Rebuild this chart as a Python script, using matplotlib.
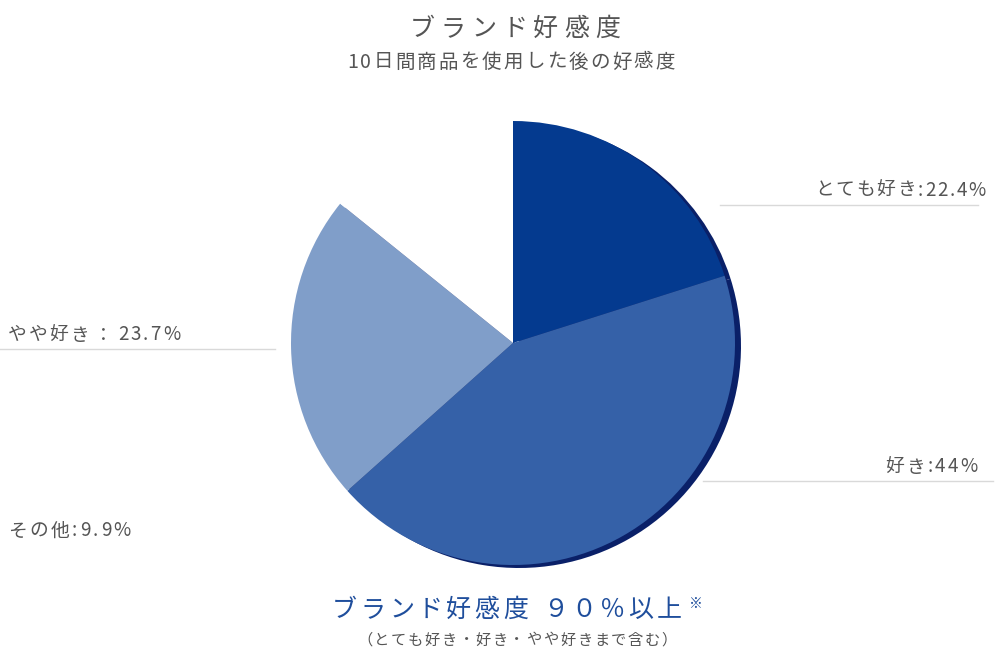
import matplotlib
matplotlib.use('Agg')
import matplotlib.pyplot as plt

plt.rcParams['font.family'] = ['Noto Sans CJK JP', 'DejaVu Sans']

W, H = 1000, 657

# データ（12時から時計回り）
categories = ['とても好き', '好き', 'やや好き', 'その他']
label_texts = ['とても好き:22.4%', '好き:44%', 'やや好き ： 23.7%', 'その他:9.9%']
# 図上の扇形の角度から読んだ割合
slice_shares = [20.1, 43.3, 22.4, 14.2]
colors = ['#043a8f', '#3561a8', '#809ec9', 'white']
shadow_colors = ['#0a2068', '#0a2068', '#0a2068', 'none']

cx, cy, r = 513, 343, 222
gray = '#555555'
blue = '#1f4e9c'

fig = plt.figure(figsize=(W / 100, H / 100), dpi=100)
ax = fig.add_axes([0, 0, 1, 1])

# 影
ax.pie(slice_shares, colors=shadow_colors, startangle=90, counterclock=False,
       center=(cx + 6, H - cy - 3), radius=r,
       wedgeprops=dict(linewidth=0))
# 本体
ax.pie(slice_shares, colors=colors, startangle=90, counterclock=False,
       center=(cx, H - cy), radius=r,
       wedgeprops=dict(linewidth=0))

ax.set_xlim(0, W)
ax.set_ylim(0, H)
ax.set_aspect('equal')
ax.axis('off')

renderer = fig.canvas.get_renderer()


# 字間を広げて幅を合わせる（座標は画像のピクセル）
def spaced_text(x, y, s, size, width, ha='left', color=gray, space=0.5):
    ws = []
    for ch in s:
        if ch == ' ':
            ws.append(size * 100 / 72 * space)
            continue
        t = ax.text(0, 0, ch, fontsize=size)
        ws.append(t.get_window_extent(renderer).width)
        t.remove()
    gap = (width - sum(ws)) / (len(s) - 1)
    if ha == 'left':
        pos = x
    elif ha == 'right':
        pos = x - width
    else:
        pos = x - width / 2
    for ch, w in zip(s, ws):
        if ch != ' ':
            ax.text(pos, H - y, ch, ha='left', va='center', fontsize=size, color=color)
        pos += w + gap


# ラベルと線
line_c = '#d9d9d9'
ax.plot([720, 978], [H - 205, H - 205], color=line_c, lw=1)
spaced_text(986, 190, label_texts[0], 13.5, 171, ha='right')

ax.plot([703, 993], [H - 481, H - 481], color=line_c, lw=1)
spaced_text(978, 467, label_texts[1], 13.5, 93, ha='right')

ax.plot([0, 275], [H - 349, H - 349], color=line_c, lw=1)
spaced_text(8, 335, label_texts[2], 13.5, 172, space=0.05)

spaced_text(8, 531, label_texts[3], 13.5, 123)

# タイトル
spaced_text(515, 29, 'ブランド好感度', 18, 210, ha='center')
spaced_text(511, 62, '10日間商品を使用した後の好感度', 14, 328, ha='center')

# 下部
spaced_text(507, 610, 'ブランド好感度 ９０％以上', 18, 350, ha='center', color=blue, space=0.3)
ax.text(696, H - 604, '※', ha='center', va='center', fontsize=10, color=blue)
spaced_text(517, 640, '（とても好き・好き・やや好きまで含む）', 11, 320, ha='center')

fig.savefig('out.png', dpi=100, facecolor='white')
